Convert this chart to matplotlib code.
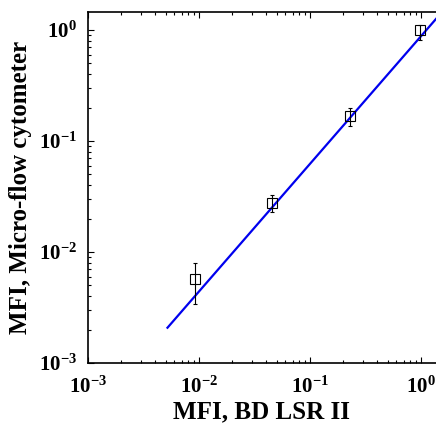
import numpy as np
import matplotlib
matplotlib.use("Agg")
import matplotlib.pyplot as plt
from matplotlib.ticker import LogLocator, NullFormatter

plt.rcParams['font.family'] = ['Liberation Serif', 'DejaVu Serif']
plt.rcParams['font.weight'] = 'bold'
plt.rcParams['mathtext.fontset'] = 'custom'
plt.rcParams['mathtext.rm'] = 'Liberation Serif:bold'
plt.rcParams['mathtext.bf'] = 'Liberation Serif:bold'
plt.rcParams['mathtext.default'] = 'bf'

# Measured points (normalised MFI)
mfi_lsr = [0.0092, 0.0455, 0.229, 0.98]
mfi_micro = [0.0057, 0.0276, 0.168, 1.0]
err_low = [0.0034, 0.0228, 0.137, 0.81]
err_high = [0.0079, 0.0324, 0.198, 1.10]

# Power-law fit: y = a * x^b
fit_a = 0.88
fit_b = 1.15
fit_x_start = 0.0052
fit_x_end = 1.5

x = np.array(mfi_lsr)
y = np.array(mfi_micro)
yerr = np.vstack([y - np.array(err_low), np.array(err_high) - y])

fig = plt.figure(figsize=(4.36, 4.32), dpi=100)
ax = fig.add_axes([0.2018, 0.1597, 0.798, 0.8125])

xf = np.logspace(np.log10(fit_x_start), np.log10(fit_x_end), 200)
ax.plot(xf, fit_a * xf ** fit_b, color='#0000ee', linewidth=1.6, zorder=2)
ax.errorbar(x, y, yerr=yerr, fmt='s', mfc='none', mec='black', mew=0.8,
            ms=7, ecolor='black', elinewidth=0.8, capsize=1.5, zorder=3)

ax.set_xscale('log')
ax.set_yscale('log')
ax.set_xlim(1e-3, 1.36)
ax.set_ylim(1e-3, 1.45)

ax.xaxis.set_major_locator(LogLocator(base=10, numticks=10))
ax.yaxis.set_major_locator(LogLocator(base=10, numticks=10))
ax.xaxis.set_minor_locator(LogLocator(base=10, subs=np.arange(2, 10), numticks=20))
ax.yaxis.set_minor_locator(LogLocator(base=10, subs=np.arange(2, 10), numticks=20))
ax.xaxis.set_minor_formatter(NullFormatter())
ax.yaxis.set_minor_formatter(NullFormatter())

ax.tick_params(which='both', direction='in', top=True, right=False,
               labelsize=15, width=0.8)
ax.tick_params(which='major', length=4)
ax.tick_params(which='minor', length=2)
ax.tick_params(axis='x', which='major', pad=10)
ax.tick_params(axis='y', which='major', pad=8)
ax.spines['right'].set_visible(False)
for s in ['left', 'bottom', 'top']:
    ax.spines[s].set_linewidth(1.2)

ax.set_xlabel('MFI, BD LSR II', fontsize=18, fontweight='bold')
ax.set_ylabel('MFI, Micro-flow cytometer', fontsize=18, fontweight='bold')
ax.xaxis.set_label_coords(0.5, -0.105)
ax.yaxis.set_label_coords(-0.16, 0.5)

fig.savefig('out.png', dpi=100)
